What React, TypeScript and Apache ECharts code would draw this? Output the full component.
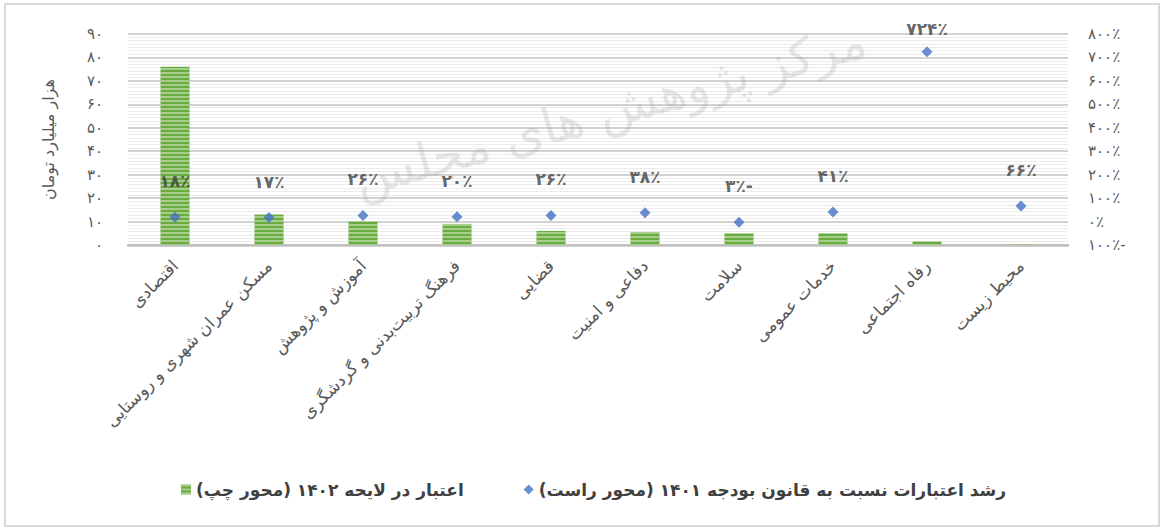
import React, { useEffect, useRef } from "react";
import * as echarts from "echarts";

const categories = [
  "اقتصادی",
  "مسکن عمران شهری و روستایی",
  "آموزش و پژوهش",
  "فرهنگ تربیت‌بدنی و گردشگری",
  "قضایی",
  "دفاعی و امنیت",
  "سلامت",
  "خدمات عمومی",
  "رفاه اجتماعی",
  "محیط زیست",
];
const credit1402 = [76, 13, 10, 9, 6, 5.5, 5, 5, 1.5, 0.2];
const growthPct = [18, 17, 26, 20, 26, 38, -3, 41, 724, 66];
const leftTicks = { min: 0, max: 90, interval: 10 };
const rightTicks = { min: -100, max: 800, interval: 100 };

const RLM = "\u200F";
const barName = RLM + "اعتبار در لایحه ۱۴۰۲ (محور چپ)" + RLM;
const dotName = RLM + "رشد اعتبارات نسبت به قانون بودجه ۱۴۰۱ (محور راست)" + RLM;
const axisName = "هزار میلیارد تومان";
const watermark = "مرکز پژوهش های مجلس";

const faDigits = "۰۱۲۳۴۵۶۷۸۹";
const toFa = (n: number) => String(n).replace(/[0-9]/g, (d) => faDigits[+d]);
const pct = (v: number) => (v < 0 ? toFa(-v) + "٪-" : toFa(v) + "٪");

const FONT = "'DejaVu Sans', 'Noto Sans', sans-serif";

export default function App() {
  const ref = useRef<HTMLDivElement>(null);
  useEffect(() => {
    if (!ref.current) return;
    const chart = echarts.init(ref.current, undefined, { renderer: "svg" });
    chart.setOption({
      animation: false,
      backgroundColor: "#ffffff",
      textStyle: { fontFamily: FONT },
      graphic: [
        {
          type: "rect",
          shape: { x: 5, y: 4, width: 1154, height: 522 },
          style: { fill: "none", stroke: "#d9d9d9", lineWidth: 2 },
          silent: true,
        },
        {
          type: "text",
          x: 610,
          y: 110,
          rotation: 0.27,
          z: 1,
          silent: true,
          style: {
            text: watermark,
            fontSize: 50,
            fontFamily: FONT,
            fill: "rgba(160,160,160,0.25)",
            align: "center",
            verticalAlign: "middle",
          },
        },
      ],
      grid: { left: 128, right: 93, top: 34, bottom: 283 },
      legend: {
        bottom: 25,
        left: 176,
        itemGap: 60,
        itemWidth: 10,
        itemHeight: 10,
        textStyle: { fontSize: 17, fontWeight: "bold", color: "#404040", fontFamily: FONT },
        data: [
          { name: barName, icon: "rect" },
          { name: dotName, icon: "diamond" },
        ],
      },
      xAxis: {
        type: "category",
        data: categories,
        axisLine: { lineStyle: { color: "#bfbfbf", width: 2.5 } },
        axisTick: { show: false },
        axisLabel: {
          rotate: 45,
          margin: 18,
          interval: 0,
          color: "#595959",
          fontSize: 17,
          fontFamily: FONT,
        },
      },
      yAxis: [
        {
          type: "value",
          ...leftTicks,
          name: axisName,
          nameLocation: "middle",
          nameRotate: 90,
          nameGap: 72,
          nameTextStyle: { color: "#595959", fontSize: 16, fontFamily: FONT },
          axisLine: { show: false },
          axisTick: { show: false },
          axisLabel: {
            margin: 25,
            color: "#595959",
            fontSize: 15,
            formatter: (v: number) => toFa(v),
          },
          splitLine: { lineStyle: { color: "#d2d2d2", width: 2 } },
          minorTick: { show: false, splitNumber: 7 },
          minorSplitLine: { show: true, lineStyle: { color: "#ececec", width: 1 } },
        },
        {
          type: "value",
          ...rightTicks,
          axisLine: { show: false },
          axisTick: { show: false },
          splitLine: { show: false },
          axisLabel: {
            margin: 20,
            color: "#595959",
            fontSize: 15,
            align: "left",
            formatter: (v: number) => pct(v),
          },
        },
      ],
      series: [
        {
          name: barName,
          type: "bar",
          yAxisIndex: 0,
          barWidth: 29,
          data: credit1402,
          itemStyle: {
            color: "#6aab3f",
            decal: {
              symbol: "rect",
              symbolSize: 1,
              dashArrayX: [1, 0],
              dashArrayY: [1.5, 2],
              rotation: 0,
              color: "rgba(255,255,255,0.4)",
            },
          },
        },
        {
          name: dotName,
          type: "scatter",
          yAxisIndex: 1,
          symbol: "diamond",
          symbolSize: 11,
          z: 3,
          itemStyle: { color: "#4472c4" },
          data: growthPct.map((v) =>
            v > 500
              ? { value: v, label: { distance: 9 } }
              : { value: v }
          ),
          label: {
            show: true,
            position: "top",
            distance: 22,
            color: "#404040",
            fontSize: 17,
            fontWeight: "bold",
            fontFamily: FONT,
            formatter: (p: any) => pct(p.value),
          },
        },
      ],
    });
    return () => chart.dispose();
  }, []);
  return (
    <div
      ref={ref}
      style={{ position: "fixed", left: 0, top: 0, width: 1161, height: 528 }}
    />
  );
}
